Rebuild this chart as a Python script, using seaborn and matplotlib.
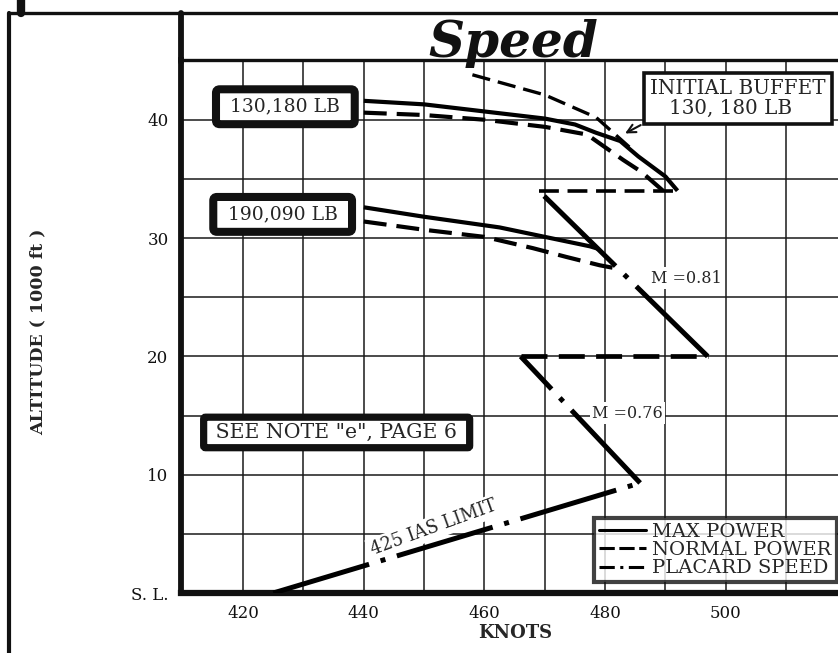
import matplotlib
matplotlib.use("Agg")
import matplotlib.pyplot as plt
import seaborn as sns
from matplotlib.lines import Line2D

sns.set_theme(style="white")
plt.rcParams['font.family'] = ['DejaVu Serif']

# ---- data (knots vs altitude in 1000 ft) ----
kn_130_max = [440, 450, 460, 470, 475, 478.5, 482.5, 485.5, 490, 492]
alt_130_max = [41.6, 41.3, 40.7, 40.1, 39.6, 38.9, 38.2, 36.9, 35.2, 34.0]

kn_130_norm = [440, 450, 460, 470, 477, 483, 486, 489.6]
alt_130_norm = [40.6, 40.4, 40.0, 39.4, 38.75, 36.6, 35.6, 34.0]

kn_buffet = [458, 470, 478.5, 484]
alt_buffet = [43.8, 42.1, 40.2, 37.7]

kn_190_max = [440, 450, 462.5, 470, 477.5, 478.8]
alt_190_max = [32.6, 31.8, 30.9, 30.1, 29.3, 29.1]

kn_190_norm = [440, 450, 460, 468, 473.6, 479.1, 482.2]
alt_190_norm = [31.4, 30.7, 30.1, 29.15, 28.4, 27.7, 27.4]

# placard speed: 425 IAS limit, M=0.76, M=0.81 and the level transitions
kn_ias = [425, 485.8]
alt_ias = [0, 9.3]
kn_m076 = [485.8, 466]
alt_m076 = [9.3, 20]
kn_lvl20 = [466, 497]
alt_lvl20 = [20, 20]
kn_m081 = [497, 469]
alt_m081 = [20, 34]
kn_lvl34 = [469, 492]
alt_lvl34 = [34, 34]

x_labels = [420, 440, 460, 480, 500]
x_grid = [430, 450, 470, 490, 510]
y_ticks = [0, 10, 20, 30, 40]
y_tick_labels = ['S. L.', '10', '20', '30', '40']
y_grid = [5, 15, 25, 35]

SOLID = '-'
DASH = (0, (5.5, 2.4))
PLACARD = (0, (20, 2.4, 1, 2.4))

fig = plt.figure(figsize=(8.38, 6.53), dpi=100)
W, H = 838, 653
ax = fig.add_axes([181 / W, 1 - 593 / H, 1 - 181 / W, (593 - 60) / H])


def draw(xs, ys, ls, lw=3.0):
    sns.lineplot(x=xs, y=ys, ax=ax, sort=False, estimator=None, color='black',
                 lw=lw, linestyle=ls, zorder=4, solid_capstyle='butt', dash_capstyle='butt')


draw(kn_130_max, alt_130_max, SOLID)
draw(kn_130_norm, alt_130_norm, DASH)
draw(kn_buffet, alt_buffet, DASH, lw=2.4)
draw(kn_190_max, alt_190_max, SOLID)
draw(kn_190_norm, alt_190_norm, DASH)
draw(kn_ias, alt_ias, PLACARD, lw=3.6)
draw(kn_m076, alt_m076, PLACARD, lw=3.6)
draw(kn_lvl20, alt_lvl20, DASH, lw=3.4)
draw(kn_m081, alt_m081, PLACARD, lw=3.6)
draw(kn_lvl34, alt_lvl34, DASH, lw=2.6)

ax.set_xlim(409.7, 518.6)
ax.set_ylim(0, 45.05)
ax.set_xticks(x_labels)
ax.set_xticklabels([str(v) for v in x_labels])
ax.set_xticks(x_grid, minor=True)
ax.set_yticks(y_ticks)
ax.set_yticklabels(y_tick_labels)
ax.set_yticks(y_grid, minor=True)
ax.tick_params(which='both', length=0, pad=9, labelsize=12, labelcolor='#111')
ax.set_axisbelow(True)
ax.grid(which='both', color='#1a1a1a', lw=1.1)

ax.spines['right'].set_visible(False)
ax.spines['left'].set_linewidth(4.2)
ax.spines['bottom'].set_linewidth(4.5)
ax.spines['top'].set_linewidth(2.4)
for side in ['left', 'bottom', 'top']:
    ax.spines[side].set_color('#111')

ax.set_xlabel('KNOTS', fontsize=13, fontweight='bold')
ax.xaxis.set_label_coords(0.508, -0.058)
ax.set_ylabel('ALTITUDE ( 1000 ft )', fontsize=12.5, fontweight='bold')
ax.yaxis.set_label_coords(-0.204, 0.49)

# weight boxes and notes
heavy = dict(boxstyle='round,pad=0.45,rounding_size=0.2', fc='white', ec='#111', lw=5.8)
ax.text(427.0, 41.1, ' 130,180 LB ', fontsize=13.5, ha='center', va='center', bbox=heavy, zorder=5)
ax.text(426.55, 32.0, ' 190,090 LB ', fontsize=13.5, ha='center', va='center', bbox=heavy, zorder=5)
ax.text(435.5, 13.57, ' SEE NOTE "e", PAGE 6 ', fontsize=14.8, ha='center', va='center',
        bbox=dict(boxstyle='round,pad=0.28,rounding_size=0.1', fc='white', ec='#111', lw=5.2), zorder=5)
ax.text(487.5, 41.8, 'INITIAL BUFFET\n   130, 180 LB', fontsize=14.3, ha='left', va='center',
        linespacing=1.05, multialignment='left',
        bbox=dict(boxstyle='square,pad=0.3', fc='white', ec='#111', lw=2.6), zorder=5)
ax.annotate('', xy=(482.9, 38.73), xytext=(486.3, 39.66),
            arrowprops=dict(arrowstyle='->,head_length=0.5,head_width=0.25', color='#111', lw=1.5), zorder=5)

white = dict(boxstyle='square,pad=0.15', fc='white', ec='none')
ax.text(493.5, 26.6, 'M =0.81', fontsize=11.5, ha='center', va='center', bbox=white, zorder=3)
ax.text(483.7, 15.2, 'M =0.76', fontsize=11.5, ha='center', va='center', bbox=white, zorder=3)
ax.text(451.5, 5.5, '425 IAS LIMIT', fontsize=12.8, ha='center', va='center', rotation=20,
        rotation_mode='anchor', bbox=white, zorder=3)

handles = [
    Line2D([], [], color='black', lw=2.2, ls='-'),
    Line2D([], [], color='black', lw=2.2, ls=(0, (5, 1.5))),
    Line2D([], [], color='black', lw=2.2, ls=(0, (5, 1.8, 1, 1.8))),
]
leg = ax.legend(handles, ['MAX POWER', 'NORMAL POWER', 'PLACARD SPEED'], loc='lower right',
                bbox_to_anchor=(0.998, 0.02), borderaxespad=0, fontsize=14, frameon=True,
                fancybox=False, handlelength=2.4, handletextpad=0.35, labelspacing=0.02,
                borderpad=0.25)
leg.get_frame().set_edgecolor('#111')
leg.get_frame().set_linewidth(3.0)
leg.set_zorder(6)

# outer frame of the page
fig.add_artist(Line2D([9 / W, 9 / W], [0, 1 - 13 / H], color='#111', lw=3.0, transform=fig.transFigure))
fig.add_artist(Line2D([9 / W, 1], [1 - 13 / H, 1 - 13 / H], color='#111', lw=2.4, transform=fig.transFigure))
fig.add_artist(Line2D([181 / W, 181 / W], [1 - 62 / H, 1 - 13 / H], color='#111', lw=4.2,
                      transform=fig.transFigure))
fig.add_artist(Line2D([21 / W, 21 / W], [1 - 13 / H, 1], color='#111', lw=6, transform=fig.transFigure))

fig.text(513 / W, 1 - 57 / H, 'Speed', fontsize=36, fontweight='bold', style='italic',
         ha='center', va='baseline', color='#111')

fig.savefig('out.png', dpi=100)
